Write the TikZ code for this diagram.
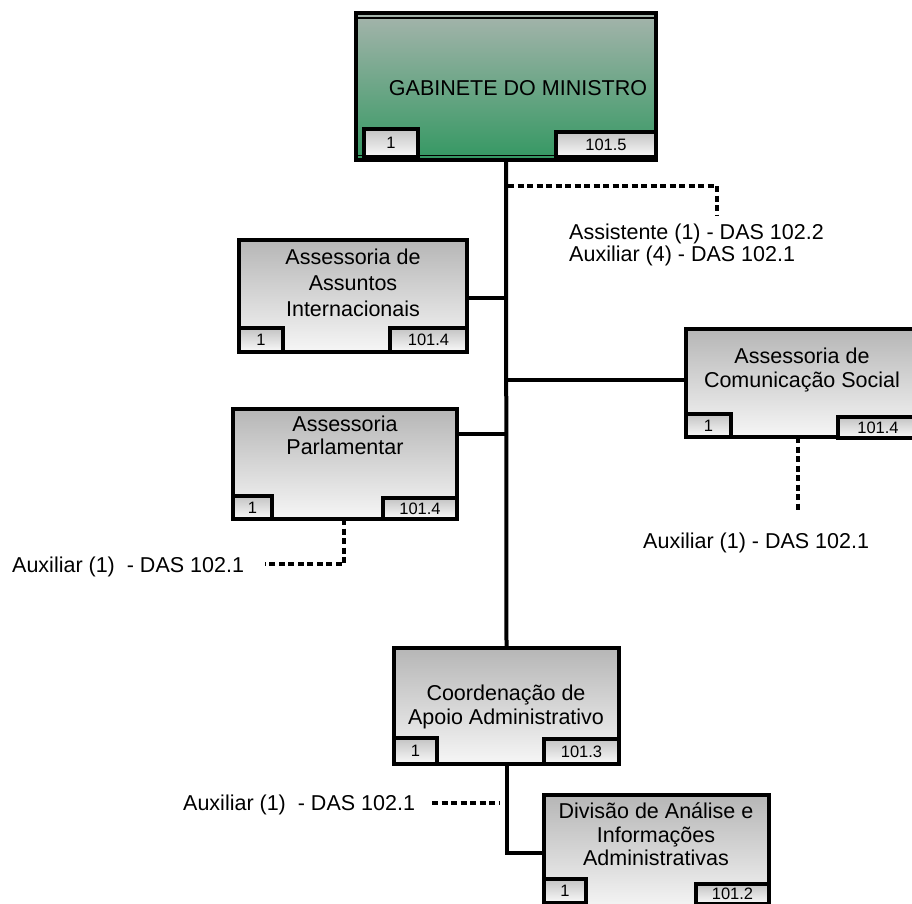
\documentclass[tikz,border=0pt]{standalone}
\usepackage{fontspec}
\setmainfont{Liberation Sans}
\usetikzlibrary{calc}
\definecolor{boxtop}{RGB}{182,182,182}
\definecolor{boxbot}{RGB}{246,246,246}
\definecolor{gtop}{RGB}{165,180,172}
\definecolor{gbot}{RGB}{52,152,98}
\definecolor{tagtop}{RGB}{195,195,195}
\definecolor{tagbot}{RGB}{250,250,250}
\begin{document}
\begin{tikzpicture}[x=1pt,y=-1pt,
  orgbox/.style={draw, rectangle, line width=4pt, inner sep=0pt, outer sep=0pt,
    top color=boxtop, bottom color=boxbot, anchor=north west},
  topbox/.style={orgbox, top color=gtop, bottom color=gbot, line width=4.5pt},
  tag/.style={draw, rectangle, line width=3.5pt, inner sep=0pt, outer sep=0pt,
    top color=tagtop, bottom color=tagbot, anchor=north west,
    font=\fontsize{16.5}{16.5}\selectfont},
  lbl/.style={font=\fontsize{21.5}{24}\selectfont, inner sep=0pt, anchor=base},
  note/.style={font=\fontsize{21.5}{24}\selectfont, inner sep=0pt, anchor=base west},
  link/.style={line width=4pt},
  dashlink/.style={line width=3.2pt, dash pattern=on 6pt off 3.5pt}]
\useasboundingbox (0,0) rectangle (912,903);

% boxes
\node[topbox, minimum width=300, minimum height=147] (gab) at (356,13) {};
\draw[line width=1.5pt] ($(gab.north west)+(0,5)$) -- ($(gab.north east)+(0,5)$);
\draw[line width=1.8pt] ($(gab.south west)+(0,-4.5)$) -- ($(gab.south east)+(0,-4.5)$);
\node[orgbox, minimum width=228, minimum height=112] (aai) at (239,240) {};
\node[orgbox, minimum width=230, minimum height=108] (acs) at (686,329) {};
\node[orgbox, minimum width=224, minimum height=110] (ap) at (233,409) {};
\node[orgbox, minimum width=225, minimum height=116] (cad) at (394,648) {};
\node[orgbox, minimum width=225, minimum height=115] (dai) at (544,795) {};

% box texts
\node[lbl] (gabt) at (518,95) {GABINETE DO MINISTRO};
\node[lbl] (aait1) at (353,264) {Assessoria de};
\node[lbl] (aait2) at (353,290) {Assuntos};
\node[lbl] (aait3) at (353,316) {Internacionais};
\node[lbl] (acst1) at (802,363) {Assessoria de};
\node[lbl] (acst2) at (802,387) {Comunicação Social};
\node[lbl] (apt1) at (345,431) {Assessoria};
\node[lbl] (apt2) at (345,454) {Parlamentar};
\node[lbl] (cadt1) at (506,700) {Coordenação de};
\node[lbl] (cadt2) at (506,724) {Apoio Administrativo};
\node[lbl] (dait1) at (656,818) {Divisão de Análise e};
\node[lbl] (dait2) at (656,842) {Informações};
\node[lbl] (dait3) at (656,865) {Administrativas};

% tags
\node[tag, minimum width=54, minimum height=28] (gab1) at (364,129) {1};
\node[tag, minimum width=100, minimum height=25] (gab2) at (556,132) {101.5};
\node[tag, minimum width=44, minimum height=24] (aai1) at (239,328) {1};
\node[tag, minimum width=77, minimum height=24] (aai2) at (390,328) {101.4};
\node[tag, minimum width=45, minimum height=23] (acs1) at (686,414) {1};
\node[tag, minimum width=80, minimum height=21] (acs2) at (838,417) {101.4};
\node[tag, minimum width=39, minimum height=23] (ap1) at (233,496) {1};
\node[tag, minimum width=74, minimum height=21] (ap2) at (383,498) {101.4};
\node[tag, minimum width=43, minimum height=26] (cad1) at (394,738) {1};
\node[tag, minimum width=75, minimum height=25] (cad2) at (544,739) {101.3};
\node[tag, minimum width=42, minimum height=24] (dai1) at (544,879) {1};
\node[tag, minimum width=73, minimum height=20] (dai2) at (696,884) {101.2};

% connectors
\draw[link] (gab.south) -- (cad.north);
\draw[link] ($(aai.east)+(0,2)$) -- ($(aai.east -| gab.south)+(0,2)$);
\draw[link] ($(acs.west)+(0,-3)$) -- ($(acs.west -| gab.south)+(0,-3)$);
\draw[link] ($(ap.north east)+(0,25)$) -- ($(ap.north east -| gab.south)+(0,25)$);
\draw[link] (cad.south) |- (dai.west);

% dashed connectors
\coordinate (n1e) at (717,215);
\draw[dashlink] ($(gab.south)+(2,26)$) -| (n1e);
\coordinate (ape) at (265,564);
\draw[dashlink] ($(ap.south west)+(111,0)$) |- (ape);
\coordinate (acse) at (798,512);
\draw[dashlink] ($(acs.south west)+(112,0)$) -- (acse);
\coordinate (cadl) at (432,803);
\coordinate (cadr) at (500,803);
\draw[dashlink] (cadl) -- (cadr);

% notes
\node[note] (nt1) at (569,239) {Assistente (1) - DAS 102.2};
\node[note] (nt2) at (569,261) {Auxiliar (4) - DAS 102.1};
\node[note] (nt3) at (12,572) {Auxiliar (1)\ \ - DAS 102.1};
\node[note] (nt4) at (643,548) {Auxiliar (1) - DAS 102.1};
\node[note] (nt5) at (183,810) {Auxiliar (1)\ \ - DAS 102.1};
\end{tikzpicture}
\end{document}
